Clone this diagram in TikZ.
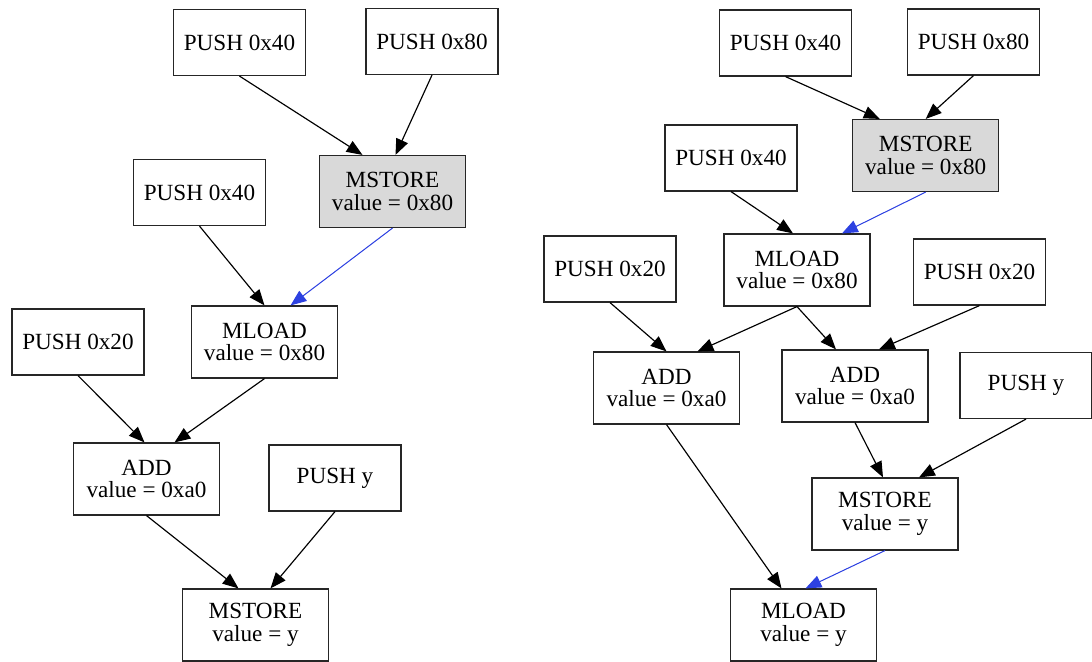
\documentclass[tikz,border=0pt]{standalone}
\usepackage{fontspec}
\setmainfont{Liberation Serif}
\usetikzlibrary{arrows.meta,calc}
\definecolor{boxgray}{RGB}{217,217,217}
\definecolor{edgeblue}{RGB}{45,65,225}
\tikzset{
  opbox/.style={draw=black!85, line width=0.7pt, rectangle, inner sep=0pt, align=center,
     font=\fontsize{13.9}{13.6}\selectfont},
  single/.style={opbox, minimum width=79.2pt, minimum height=39.6pt},
  double/.style={opbox, minimum width=87.6pt, minimum height=43.2pt},
  stored/.style={fill=boxgray},
  edge/.style={line width=0.7pt, -{Triangle[length=9.5pt,width=7.5pt]}},
  blueedge/.style={edge, draw=edgeblue, fill=edgeblue, line width=0.6pt},
}
\begin{document}
\begin{tikzpicture}[x=0.6pt,y=-0.6pt]
\useasboundingbox (0,0) rectangle (1092,662);
% ---- left graph ----
\node[single] (l1) at (239.5,42.5) {PUSH 0x40};
\node[single] (l2) at (432,41.5) {PUSH 0x80};
\node[double,stored] (l3) at (392.5,191.5) {MSTORE\\value = 0x80};
\node[single] (l4) at (199.5,192.5) {PUSH 0x40};
\node[double] (l5) at (264.5,342) {MLOAD\\value = 0x80};
\node[single] (l6) at (78,342) {PUSH 0x20};
\node[double] (l7) at (146.5,479) {ADD\\value = 0xa0};
\node[single] (l8) at (335,478) {PUSH y};
\node[double] (l9) at (255.5,625) {MSTORE\\value = y};
\draw[edge] (l1.south) -- ($(l3.north)+(-30,0)$);
\draw[edge] (l2.south) -- ($(l3.north)+(3,0)$);
\draw[blueedge] (l3.south) -- ($(l5.north)+(26,0)$);
\draw[edge] (l4.south) -- ($(l5.north)+(0,0)$);
\draw[edge] (l6.south) -- ($(l7.north)+(-2,0)$);
\draw[edge] (l5.south) -- ($(l7.north)+(28,0)$);
\draw[edge] (l7.south) -- ($(l9.north)+(-17,0)$);
\draw[edge] (l8.south) -- ($(l9.north)+(15,0)$);
% ---- right graph ----
\node[single] (r1) at (785.5,43) {PUSH 0x40};
\node[single] (r2) at (973.5,42) {PUSH 0x80};
\node[double,stored] (r3) at (925.7,155.5) {MSTORE\\value = 0x80};
\node[single] (r4) at (731,158) {PUSH 0x40};
\node[double] (r5) at (797,270) {MLOAD\\value = 0x80};
\node[single] (r6) at (610,269) {PUSH 0x20};
\node[single] (r7) at (979.5,272) {PUSH 0x20};
\node[double] (r8) at (666.5,388) {ADD\\value = 0xa0};
\node[double] (r9) at (855,386) {ADD\\value = 0xa0};
\node[single] (r10) at (1026,385.5) {PUSH y};
\node[double] (r11) at (885,514) {MSTORE\\value = y};
\node[double] (r12) at (803.5,625) {MLOAD\\value = y};
\draw[edge] (r1.south) -- ($(r3.north)+(-46,0)$);
\draw[edge] (r2.south) -- ($(r3.north)+(0,0)$);
\draw[blueedge] (r3.south) -- ($(r5.north)+(45,0)$);
\draw[edge] (r4.south) -- ($(r5.north)+(-4,0)$);
\draw[edge] (r6.south) -- ($(r8.north)+(0,0)$);
\draw[edge] (r5.south) -- ($(r8.north)+(31,0)$);
\draw[edge] (r5.south) -- ($(r9.north)+(-19,0)$);
\draw[edge] (r7.south) -- ($(r9.north)+(24,0)$);
\draw[edge] (r9.south) -- ($(r11.north)+(-2,0)$);
\draw[edge] (r10.south) -- ($(r11.north)+(34,0)$);
\draw[blueedge] (r11.south) -- ($(r12.north)+(2,0)$);
\draw[edge] (r8.south) -- ($(r12.north)+(-22,0)$);
\end{tikzpicture}
\end{document}
